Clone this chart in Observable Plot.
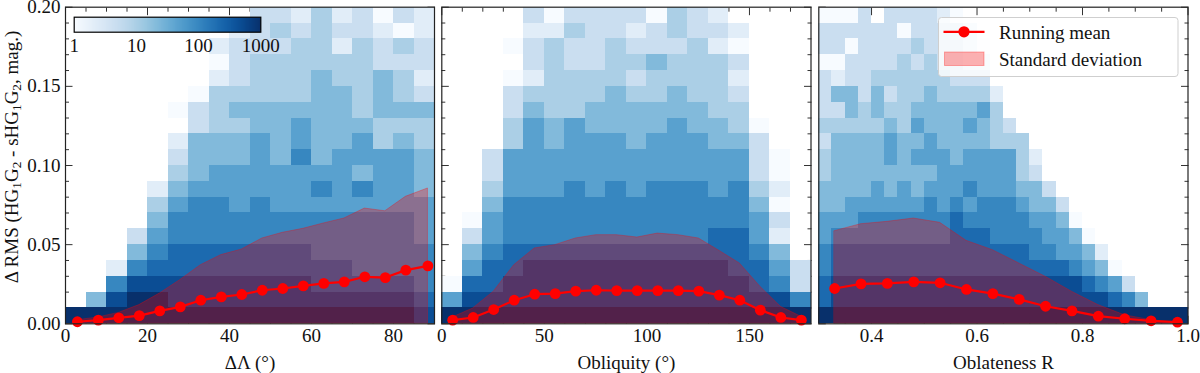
<!DOCTYPE html>
<html>
<head>
<meta charset="utf-8">
<script src="https://cdn.jsdelivr.net/npm/d3@7"></script>
<script src="https://cdn.jsdelivr.net/npm/@observablehq/plot@0.6"></script>
<style>
  body { margin: 0; background: #fff; }
  #wrap { position: relative; width: 1200px; height: 373px; font-family: "Liberation Serif", "Times New Roman", serif; color: #111; }
  #ylab { position: absolute; left: 11px; top: 157px; white-space: nowrap; font-size: 19px; line-height: 1; transform: translate(-50%, -50%) rotate(-90deg); }
  #ylab sub { font-size: 70%; vertical-align: -0.25em; line-height: 0; }
  #legend { position: absolute; left: 938px; top: 16.5px; }
</style>
</head>
<body>
<div id="wrap">
  <div id="ylab">Δ RMS (HG<sub>1</sub>G<sub>2</sub> - sHG<sub>1</sub>G<sub>2</sub>, mag.)</div>
</div>
<script>
// ---------------- DATA ----------------
// 2D histogram rows (top row = 0.19–0.20 mag, bottom row = 0.00–0.01 mag).
// each character: "." empty bin, otherwise digit d with count ≈ 10^(d/3)
const dLambdaGrid = [
  ".........221312021",
  "........1232322101",
  ".......12223313232",
  ".......02333333222",
  ".......12333433431",
  "......033333443432",
  ".....0234444443444",
  "......233445444333",
  ".....1444545445343",
  ".....2444546455554",
  ".....3455555554554",
  "....14555555656554",
  "....35665655555555",
  "....46666666666665",
  "...256666666666665",
  "...467777777666666",
  "..1677777777776666",
  "..6888888888777776",
  ".48998888888888887",
  "999999999999999998"
];
const obliquityGrid = [
  "....2022220321....",
  "....11322123221...",
  "...023223222310...",
  "....23223343332...",
  "...013333233331...",
  "...233334334332...",
  "...243344444433...",
  "...3545444454430..",
  "...3545554555442..",
  "..255555555555520.",
  "..255555555555520.",
  "..355565656665631.",
  "..466666666666640.",
  ".0566666666666652.",
  ".2566666666667751.",
  ".4677777777777764.",
  ".57788888888887752",
  "077888888888888762",
  "588888888888888886",
  "999999999999999999"
];
const oblatenessGrid = [
  "0002.222210",
  "222222022221",
  "2202222322210",
  "0022223232211",
  "2122333333222",
  "24424233433331",
  "22434334444453",
  "333334354445432",
  "2444454454444333",
  "34444545554555531",
  "34444444455555532",
  "444454545556555442",
  "4455555565656665442",
  "55566666667666665540",
  "566666666677766665540",
  "6777777777777777665541",
  "67777777777777777776540",
  "788888888888888888887652",
  "7888888888888888888888764",
  "9999999999999999999999999999"
];

// running mean and upper edge of the standard-deviation band
const dLambdaX      = [2.9, 8, 13, 18, 23, 28, 33, 38, 43, 48, 53, 58, 63, 68, 73, 78, 83, 88.4];
const dLambdaMean   = [0.0013, 0.0023, 0.0038, 0.0052, 0.0082, 0.0107, 0.0149, 0.0170, 0.0185, 0.0212, 0.0223, 0.0240, 0.0255, 0.0265, 0.0297, 0.0292, 0.0339, 0.0366];
const dLambdaStdTop = [0.0023, 0.0040, 0.0069, 0.0118, 0.0191, 0.0276, 0.0370, 0.0434, 0.0469, 0.0539, 0.0575, 0.0600, 0.0634, 0.0665, 0.0728, 0.0711, 0.0802, 0.0855];

const obliquityX      = [5.3, 15.3, 25.3, 35.3, 45.3, 55.3, 65.3, 75.3, 85.3, 95.3, 105.3, 115.3, 125.3, 135.3, 145.3, 155.3, 165.3, 175.3];
const obliquityMean   = [0.0023, 0.0040, 0.0090, 0.0149, 0.0187, 0.0191, 0.0206, 0.0212, 0.0210, 0.0210, 0.0210, 0.0210, 0.0206, 0.0181, 0.0149, 0.0086, 0.0040, 0.0023];
const obliquityStdTop = [0.0040, 0.0097, 0.0202, 0.0370, 0.0476, 0.0497, 0.0539, 0.0560, 0.0560, 0.0545, 0.0570, 0.0560, 0.0539, 0.0461, 0.0381, 0.0234, 0.0107, 0.0044];

const oblatenessX      = [0.33, 0.38, 0.43, 0.48, 0.53, 0.58, 0.63, 0.68, 0.73, 0.78, 0.83, 0.88, 0.93, 0.98];
const oblatenessMean   = [0.0223, 0.0252, 0.0255, 0.0265, 0.0259, 0.0217, 0.0191, 0.0154, 0.0111, 0.0082, 0.0048, 0.0032, 0.0019, 0.0010];
const oblatenessStdTop = [0.0585, 0.0629, 0.0644, 0.0665, 0.0638, 0.0524, 0.0465, 0.0381, 0.0297, 0.0202, 0.0118, 0.0054, 0.0023, 0.0006];

// ticks
const yMajorTicks = [0, 0.05, 0.10, 0.15, 0.20];
const yMinorTicks = [0.01, 0.02, 0.03, 0.04, 0.06, 0.07, 0.08, 0.09, 0.11, 0.12, 0.13, 0.14, 0.16, 0.17, 0.18, 0.19];
const dLambdaMajor = [0, 20, 40, 60, 80];
const dLambdaMinor = [5, 10, 15, 25, 30, 35, 45, 50, 55, 65, 70, 75, 85];
const obliquityMajor = [0, 50, 100, 150];
const obliquityMinor = [10, 20, 30, 40, 60, 70, 80, 90, 110, 120, 130, 140, 160, 170];
const oblatenessMajor = [0.4, 0.6, 0.8, 1.0];
const oblatenessMinor = [0.35, 0.45, 0.5, 0.55, 0.65, 0.7, 0.75, 0.85, 0.9, 0.95];
const colorbarTicks = [1, 10, 100, 1000];

// ---------------- RENDER ----------------
const W = 1200, H = 373;
const frameTop = 6.7, frameBottom = 323.3;
const yBin = 0.01;
const colorScale = {type: "log", domain: [1, 1000], scheme: "blues"};
const tickColor = "#333";
const baseStyle = {position: "absolute", left: "0px", top: "0px", background: "transparent", overflow: "visible",
  fontFamily: '"Liberation Serif", "Times New Roman", serif', fontSize: "19px", color: "#111"};

function histCells(grid, x0, xBin) {
  const out = [];
  const nRows = grid.length;
  grid.forEach((row, k) => {
    const r = nRows - 1 - k;
    for (let c = 0; c < row.length; c++) {
      const ch = row[c];
      if (ch === ".") continue;
      out.push({x1: x0 + c * xBin, x2: x0 + (c + 1) * xBin, y1: r * yBin, y2: (r + 1) * yBin, count: Math.pow(10, +ch / 3)});
    }
  });
  return out;
}

function panel(o) {
  const cells = histCells(o.grid, o.xDomain[0], o.xBin);
  const series = o.mx.map((x, i) => ({x, mean: o.my[i], top: o.top[i]}));
  return Plot.plot({
    width: W, height: H,
    marginLeft: o.left, marginRight: W - o.right, marginTop: frameTop, marginBottom: H - frameBottom,
    x: {domain: o.xDomain},
    y: {domain: [0, 0.2]},
    color: colorScale,
    style: baseStyle,
    marks: [
      Plot.axisY(yMinorTicks, {anchor: "left", tickSize: -4, fill: "none", label: null, stroke: tickColor}),
      Plot.axisY(yMinorTicks, {anchor: "right", tickSize: -4, fill: "none", label: null, stroke: tickColor}),
      Plot.axisY(yMajorTicks, {anchor: "left", tickSize: -7.5, tickPadding: 12.5, tickFormat: ".2f",
        fill: o.yLabels ? "#111" : "none", label: null, stroke: tickColor}),
      Plot.axisY(yMajorTicks, {anchor: "right", tickSize: -7.5, fill: "none", label: null, stroke: tickColor}),
      Plot.axisX(o.xMinor, {anchor: "bottom", tickSize: -4, fill: "none", label: null, stroke: tickColor}),
      Plot.axisX(o.xMinor, {anchor: "top", tickSize: -4, fill: "none", label: null, stroke: tickColor}),
      Plot.axisX(o.xMajor, {anchor: "top", tickSize: -7.5, fill: "none", label: null, stroke: tickColor}),
      Plot.axisX(o.xMajor, {anchor: "bottom", tickSize: -7.5, tickPadding: 12.5, tickFormat: o.fmt, stroke: tickColor,
        label: o.label, labelAnchor: "center", labelOffset: 45, labelArrow: "none"}),
      Plot.rect(cells, {x1: "x1", x2: "x2", y1: "y1", y2: "y2", fill: "count", inset: 0, shapeRendering: "crispEdges"}),
      Plot.areaY(series, {x: "x", y1: 0, y2: "top", fill: "red", fillOpacity: 0.3, stroke: "red", strokeOpacity: 0.3, strokeWidth: 1}),
      Plot.line(series, {x: "x", y: "mean", stroke: "red", strokeWidth: 2.2}),
      Plot.dot(series, {x: "x", y: "mean", r: 5.4, fill: "red", stroke: "none"}),
      Plot.frame({stroke: "#222", strokeWidth: 1.2})
    ]
  });
}

const wrap = document.getElementById("wrap");

wrap.appendChild(panel({grid: dLambdaGrid, xDomain: [0, 90], xBin: 5, left: 65, right: 434,
  mx: dLambdaX, my: dLambdaMean, top: dLambdaStdTop, xMajor: dLambdaMajor, xMinor: dLambdaMinor,
  fmt: "d", label: "ΔΛ (°)", yLabels: true}));

// colorbar inset (log10 of counts along x)
wrap.appendChild(Plot.plot({
  width: W, height: H,
  marginLeft: 73.7, marginRight: W - 260.3, marginTop: 16.7, marginBottom: H - 31.7,
  x: {domain: [0, 3]},
  y: {domain: [0, 1], axis: null},
  color: colorScale,
  style: baseStyle,
  marks: [
    Plot.raster({x1: 0, x2: 3, y1: 0, y2: 1, width: 200, height: 1, fill: (x) => Math.pow(10, x)}),
    Plot.frame({stroke: "#000", strokeWidth: 1.2}),
    Plot.axisX(colorbarTicks.map((t) => Math.log10(t)), {anchor: "bottom", tickSize: 0, tickPadding: 6.5,
      tickFormat: (v) => String(colorbarTicks[Math.round(v)]), label: null})
  ]
}));

wrap.appendChild(panel({grid: obliquityGrid, xDomain: [0, 180], xBin: 10, left: 441.3, right: 810.5,
  mx: obliquityX, my: obliquityMean, top: obliquityStdTop, xMajor: obliquityMajor, xMinor: obliquityMinor,
  fmt: "d", label: "Obliquity (°)", yLabels: false}));

wrap.appendChild(panel({grid: oblatenessGrid, xDomain: [0.3, 1.0], xBin: 0.025, left: 818.3, right: 1187.5,
  mx: oblatenessX, my: oblatenessMean, top: oblatenessStdTop, xMajor: oblatenessMajor, xMinor: oblatenessMinor,
  fmt: ".1f", label: "Oblateness R", yLabels: false}));

// legend box
const ns = "http://www.w3.org/2000/svg";
const leg = document.createElementNS(ns, "svg");
leg.setAttribute("id", "legend");
leg.setAttribute("width", "241");
leg.setAttribute("height", "61");
leg.style.fontFamily = '"Liberation Serif", "Times New Roman", serif';
leg.style.fontSize = "19px";
leg.innerHTML = `
  <rect x="0.5" y="0.5" width="239.5" height="59" rx="3" fill="#fff" fill-opacity="0.8" stroke="#cfcfcf"/>
  <line x1="5.5" x2="46.5" y1="14.8" y2="14.8" stroke="red" stroke-width="2.2"/>
  <circle cx="26" cy="14.8" r="5.6" fill="red"/>
  <text x="61" y="21.8" fill="#111">Running mean</text>
  <rect x="6.5" y="35" width="39.5" height="13.5" fill="red" fill-opacity="0.3" stroke="red" stroke-opacity="0.3"/>
  <text x="61" y="48.6" fill="#111">Standard deviation</text>`;
wrap.appendChild(leg);
</script>
</body>
</html>
